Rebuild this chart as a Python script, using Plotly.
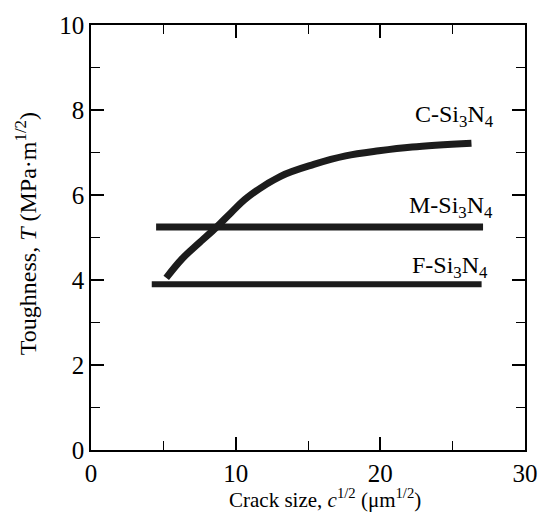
import plotly.graph_objects as go

# Toughness curves for three silicon nitride ceramics
crack_c = [5.2, 6.3, 7.4, 8.7, 9.7, 10.8, 13.1, 15.4, 17.6, 19.9, 22.2, 26.3]
tough_c = [4.05, 4.5, 4.85, 5.25, 5.59, 5.94, 6.44, 6.72, 6.92, 7.04, 7.13, 7.22]

crack_m = [4.5, 27.1]
tough_m = [5.25, 5.25]

crack_f = [4.2, 27.0]
tough_f = [3.9, 3.9]

labels = ["C-Si<sub>3</sub>N<sub>4</sub>", "M-Si<sub>3</sub>N<sub>4</sub>", "F-Si<sub>3</sub>N<sub>4</sub>"]
label_x = [25.1, 24.9, 24.8]
label_y = [7.85, 5.72, 4.3]

x_ticks = [0, 10, 20, 30]
y_ticks = [0, 2, 4, 6, 8, 10]

FONT = "Liberation Serif"
INK = "#1c1c1c"

fig = go.Figure()
fig.add_trace(go.Scatter(x=crack_f, y=tough_f, mode="lines",
                         line=dict(color=INK, width=6), showlegend=False))
fig.add_trace(go.Scatter(x=crack_m, y=tough_m, mode="lines",
                         line=dict(color=INK, width=7), showlegend=False))
fig.add_trace(go.Scatter(x=crack_c, y=tough_c, mode="lines",
                         line=dict(color=INK, width=7, shape="spline", smoothing=1.0),
                         showlegend=False))

for txt, lx, ly in zip(labels, label_x, label_y):
    fig.add_annotation(x=lx, y=ly, text=txt, showarrow=False,
                       font=dict(family=FONT, size=24, color="black"),
                       xanchor="center", yanchor="middle")

axis_common = dict(
    showgrid=False, zeroline=False,
    showline=True, linecolor="black", linewidth=1.5, mirror="allticks",
    ticks="inside", ticklen=13, tickwidth=1.5, tickcolor="black",
    tickfont=dict(family=FONT, size=25, color="black"),
    minor=dict(ticks="inside", ticklen=9, tickwidth=1.2, tickcolor="black"),
)

fig.update_xaxes(range=[0, 30], tickvals=x_ticks, **axis_common)
fig.update_xaxes(minor=dict(tickvals=[5, 15, 25]))
fig.update_yaxes(range=[0, 10], tickvals=y_ticks, **axis_common)
fig.update_yaxes(minor=dict(tickvals=[1, 3, 5, 7, 9]))

# Axis titles
fig.add_annotation(xref="paper", yref="paper", x=0.54, y=-0.115,
                   text="Crack size, <i>c</i><sup>1/2</sup> (μm<sup>1/2</sup>)",
                   showarrow=False, xanchor="center", yanchor="middle",
                   font=dict(family=FONT, size=21, color="black"))
fig.add_annotation(xref="paper", yref="paper", x=-0.15, y=0.51,
                   text="Toughness, <i>T</i> (MPa·m<sup>1/2</sup>)",
                   showarrow=False, textangle=-90, xanchor="center", yanchor="middle",
                   font=dict(family=FONT, size=24, color="black"))

fig.update_layout(
    width=550, height=531,
    margin=dict(l=91, r=19, t=15, b=81),
    paper_bgcolor="white", plot_bgcolor="white",
)

fig.write_html("out.html")
